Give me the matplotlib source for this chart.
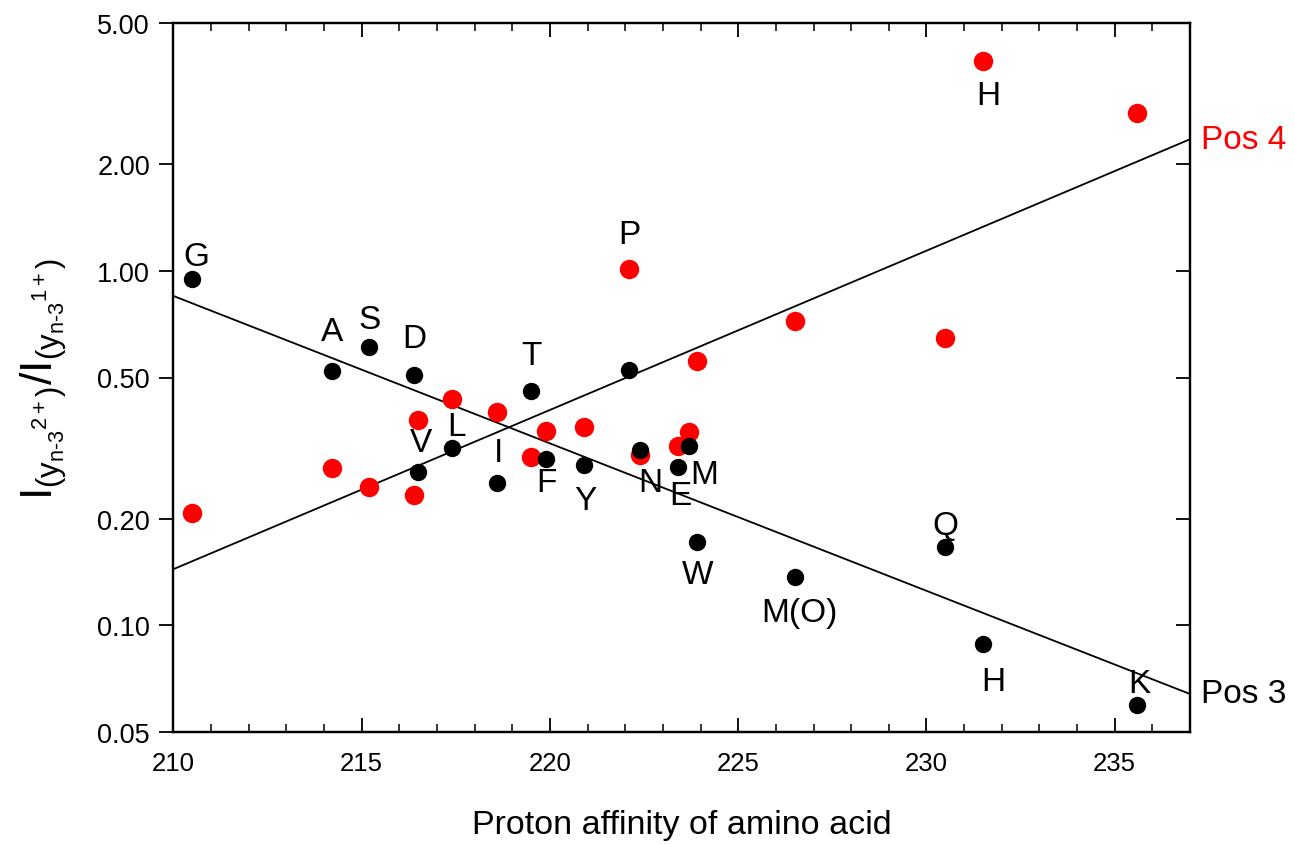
import numpy as np
import matplotlib
matplotlib.use('Agg')
import matplotlib.pyplot as plt
from matplotlib.ticker import FixedLocator, MultipleLocator, FixedFormatter, NullLocator

plt.rcParams['font.family'] = 'Liberation Sans'
plt.rcParams['mathtext.fontset'] = 'custom'
plt.rcParams['mathtext.rm'] = 'Liberation Sans'
plt.rcParams['mathtext.it'] = 'Liberation Sans'

# amino acids and proton affinity (x)
names = ['G', 'A', 'S', 'D', 'V', 'L', 'I', 'T', 'F', 'Y', 'P', 'N', 'E', 'M', 'W', 'M(O)', 'Q', 'H', 'K']
affinity = [210.5, 214.2, 215.2, 216.4, 216.5, 217.4, 218.6, 219.5, 219.9, 220.9,
            222.1, 222.4, 223.4, 223.7, 223.9, 226.5, 230.5, 231.5, 235.6]

# intensity ratios, position 3 (black) and position 4 (red)
pos3 = [0.948, 0.522, 0.610, 0.508, 0.271, 0.316, 0.252, 0.458, 0.294, 0.283,
        0.525, 0.312, 0.280, 0.320, 0.172, 0.137, 0.166, 0.0885, 0.0596]
pos4 = [0.207, 0.278, 0.245, 0.233, 0.379, 0.435, 0.400, 0.299, 0.353, 0.362,
        1.01, 0.302, 0.320, 0.351, 0.556, 0.722, 0.646, 3.91, 2.79]

# fitted trend lines (end values)
fit_x = [210, 237]
fit_pos3 = [0.849, 0.064]
fit_pos4 = [0.144, 2.35]

yticks = [0.05, 0.10, 0.20, 0.50, 1.00, 2.00, 5.00]

# label offsets in pixels (baseline, relative to point)
off3 = {'G': (4, 14), 'A': (0, 31), 'S': (0, 19), 'D': (0, 28), 'V': (3, 21),
        'L': (4, 13), 'I': (1, 22), 'T': (0, 27), 'F': (0, -32), 'Y': (1, -44),
        'N': (10, -41), 'E': (2, -37), 'M': (15, -37), 'W': (1, -41),
        'M(O)': (5, -44), 'Q': (0, 13), 'H': (10, -46), 'K': (2, 13)}
off4 = {'P': (0, 26), 'H': (5, -43)}

fig = plt.figure(figsize=(12.95, 8.45), dpi=100)
ax = fig.add_axes([173.5 / 1295, 1 - 733 / 845, (1190 - 173.5) / 1295, (733 - 24) / 845])

ax.plot(fit_x, fit_pos3, color='black', lw=1.3, zorder=2)
ax.plot(fit_x, fit_pos4, color='black', lw=1.3, zorder=2)
ax.plot(affinity, pos4, 'o', color='#ff0000', ms=14, mec='none', zorder=3)
ax.plot(affinity, pos3, 'o', color='black', ms=12.5, mec='none', zorder=4)

for i, n in enumerate(names):
    if n in off3:
        ax.annotate(n, (affinity[i], pos3[i]), xytext=off3[n], textcoords='offset pixels',
                    ha='center', va='baseline', fontsize=24)
    if n in off4:
        ax.annotate(n, (affinity[i], pos4[i]), xytext=off4[n], textcoords='offset pixels',
                    ha='center', va='baseline', fontsize=24)

ax.text(237.3, fit_pos4[1], 'Pos 4', color='#ff0000', fontsize=24, va='center', ha='left', clip_on=False)
ax.text(237.3, fit_pos3[1], 'Pos 3', color='black', fontsize=24, va='center', ha='left', clip_on=False)

ax.set_yscale('log')
ax.set_xlim(210, 237)
ax.set_ylim(0.05, 5)
ax.yaxis.set_major_locator(FixedLocator(yticks))
ax.yaxis.set_major_formatter(FixedFormatter(['%.2f' % v for v in yticks]))
ax.yaxis.set_minor_locator(NullLocator())
ax.xaxis.set_major_locator(MultipleLocator(5))
ax.xaxis.set_minor_locator(MultipleLocator(1))

ax.tick_params(axis='x', which='major', direction='in', top=True, length=10, width=1.3, labelsize=18.5, pad=14)
ax.tick_params(axis='x', which='minor', direction='in', top=True, length=6, width=1.1)
ax.tick_params(axis='y', which='major', direction='out', length=10, width=1.3, labelsize=19.5, pad=7)

ax2 = ax.twinx()
ax2.set_yscale('log')
ax2.set_ylim(0.05, 5)
ax2.yaxis.set_major_locator(FixedLocator(yticks))
ax2.yaxis.set_minor_locator(NullLocator())
ax2.tick_params(axis='y', direction='in', length=10, width=1.3, labelright=False)

for a in (ax, ax2):
    for s in a.spines.values():
        s.set_linewidth(1.6)

ax.set_xlabel('Proton affinity of amino acid', fontsize=24.5, labelpad=24)
ax.set_ylabel(r'$I_{(y_{\text{n-3}}{}^{2+})}/I_{(y_{\text{n-3}}{}^{1+})}$', fontsize=32, labelpad=20)

fig.savefig('out.png', dpi=100)
